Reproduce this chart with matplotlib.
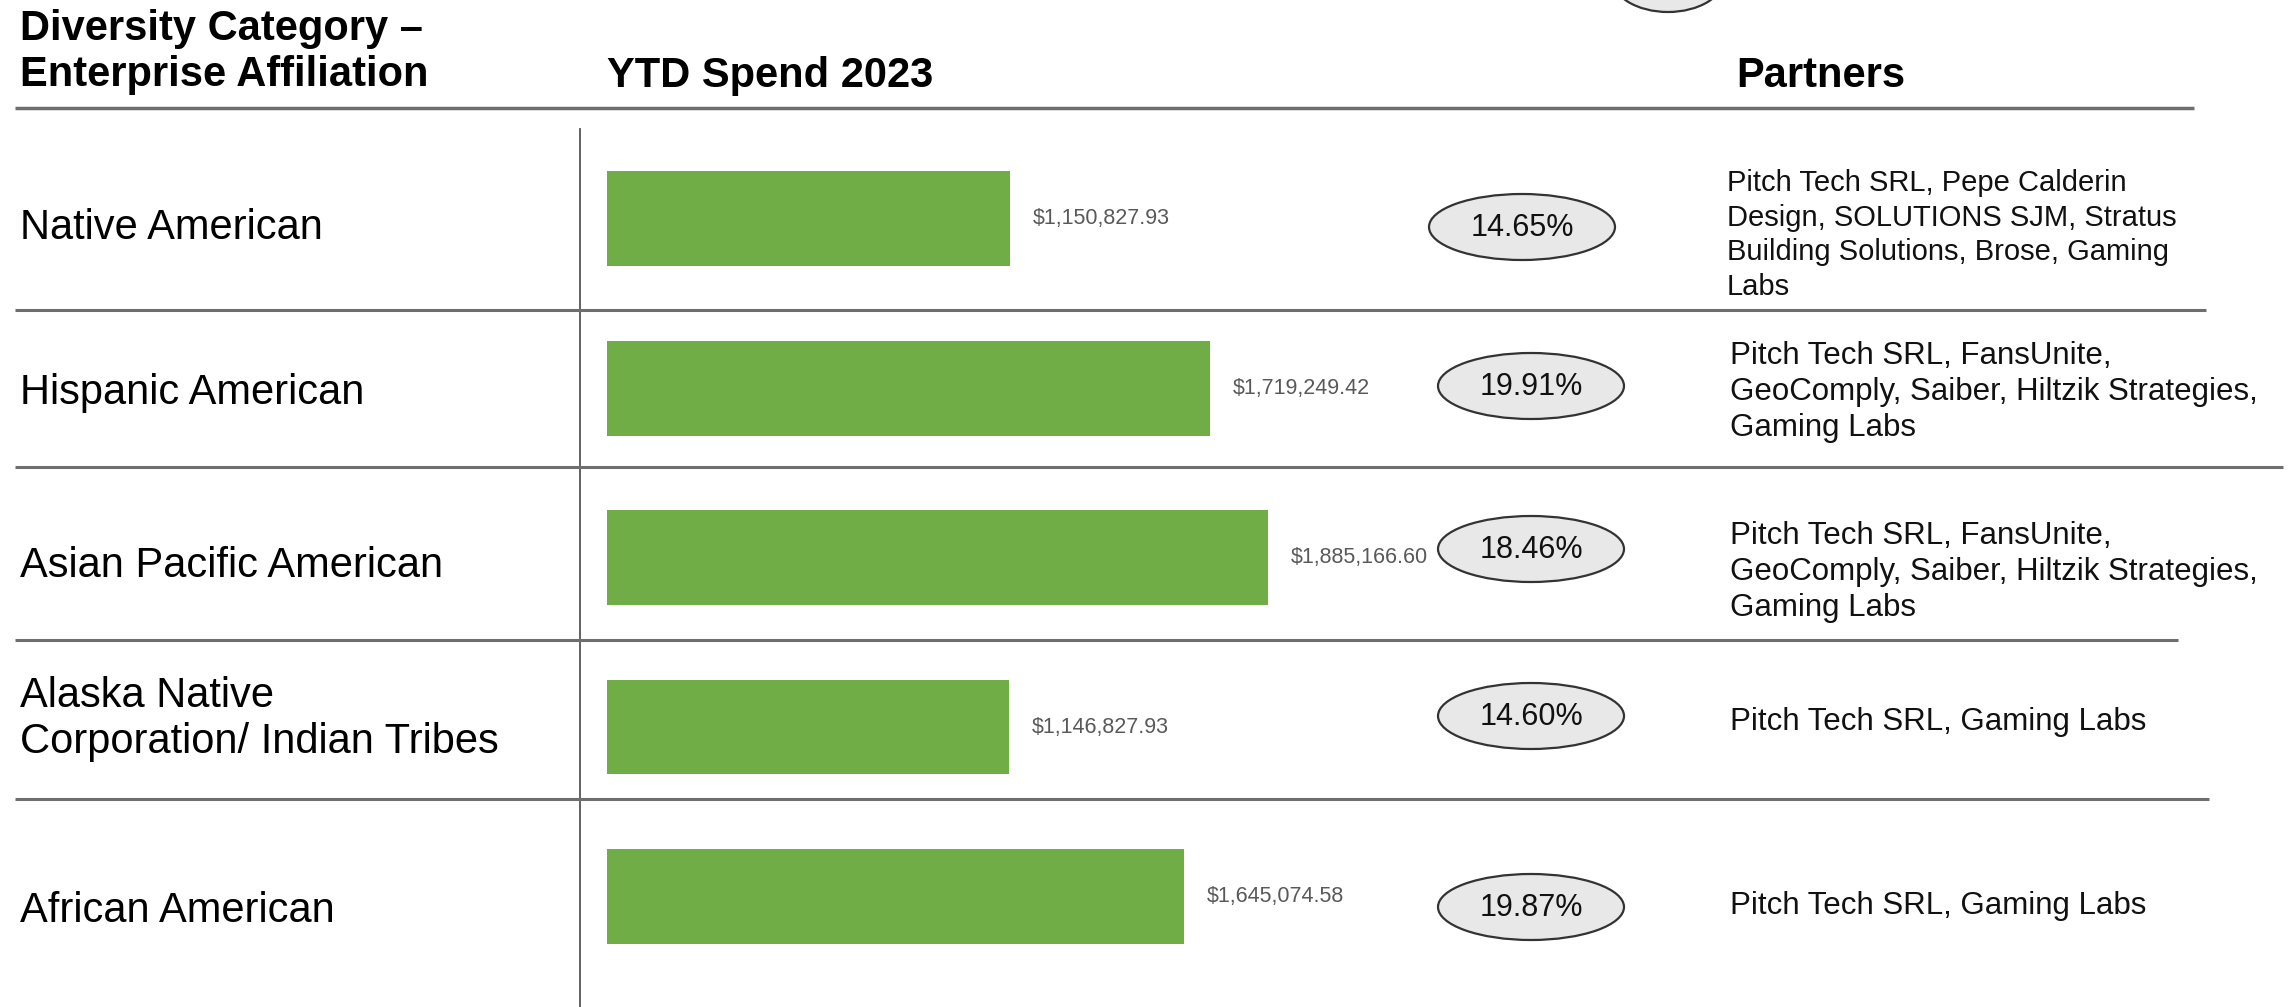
import matplotlib
matplotlib.use("Agg")
import matplotlib.pyplot as plt
from matplotlib.patches import Ellipse

plt.rcParams["font.family"] = ["Liberation Sans", "DejaVu Sans"]

# ── data ────────────────────────────────────────────────────────────────────────
categories = [
    "Native American",
    "Hispanic American",
    "Asian Pacific American",
    "Alaska Native\nCorporation/ Indian Tribes",
    "African American",
]
spend = [1150827.93, 1719249.42, 1885166.60, 1146827.93, 1645074.58]
share_pct = [14.65, 19.91, 18.46, 14.60, 19.87]
partners = [
    "Pitch Tech SRL, Pepe Calderin\nDesign, SOLUTIONS SJM, Stratus\nBuilding Solutions, Brose, Gaming\nLabs",
    "Pitch Tech SRL, FansUnite,\nGeoComply, Saiber, Hiltzik Strategies,\nGaming Labs",
    "Pitch Tech SRL, FansUnite,\nGeoComply, Saiber, Hiltzik Strategies,\nGaming Labs",
    "Pitch Tech SRL, Gaming Labs",
    "Pitch Tech SRL, Gaming Labs",
]

# ── layout (pixels) ─────────────────────────────────────────────────────────────
W, H = 2295, 1007
GREEN = "#70AD47"
LINE = "#6E6E6E"

label_y = [228, 393, 566, 719, 911]
pill_x = [1522, 1531, 1531, 1531, 1531]
pill_y = [227, 386, 549, 716, 907]
partner_x = [1727, 1730, 1730, 1730, 1730]
partner_y = [235, 392, 572, 722, 906]
partner_fs = [21, 22.5, 22.5, 22.5, 22.5]
partner_ls = [1.3, 1.27, 1.27, 1.27, 1.27]
sep_y = [310, 467, 640, 799]
sep_x_end = [2206, 2283, 2178, 2209]

fig = plt.figure(figsize=(W / 100, H / 100), dpi=100)

# overlay in pixel coords for text, rules and pills
over = fig.add_axes([0, 0, 1, 1])
over.set_xlim(0, W)
over.set_ylim(H, 0)
over.axis("off")

# headers
over.text(20, 52, "Diversity Category –\nEnterprise Affiliation", fontsize=30,
          fontweight="bold", va="center", ha="left", linespacing=1.18)
over.text(607, 76, "YTD Spend 2023", fontsize=30, fontweight="bold", va="center", ha="left")
over.text(1736, 76, "Partners", fontsize=30, fontweight="bold", va="center", ha="left")
over.plot([15, 2194], [108, 108], color=LINE, lw=2.5, solid_capstyle="butt")

# partially visible legend pill at the top edge
over.add_patch(Ellipse((1668, -22), 112, 68, facecolor="#E8E8E8", edgecolor="#333333", lw=1.6))

# column divider and row separators
over.plot([580, 580], [129, H], color="#555555", lw=1.3)
for y, xe in zip(sep_y, sep_x_end):
    over.plot([15, xe], [y, y], color=LINE, lw=2.2, solid_capstyle="butt")

for i, cat in enumerate(categories):
    over.text(20, label_y[i], cat, fontsize=30, va="center", ha="left", linespacing=1.18)
    over.add_patch(Ellipse((pill_x[i], pill_y[i]), 186, 66, facecolor="#E8E8E8",
                           edgecolor="#333333", lw=1.6))
    over.text(pill_x[i], pill_y[i] + 1, f"{share_pct[i]:.2f}%", fontsize=22,
              va="center", ha="center", color="#111111")
    over.text(partner_x[i], partner_y[i], partners[i], fontsize=partner_fs[i],
              va="center", ha="left", linespacing=partner_ls[i], color="#111111")

# bars
ax = fig.add_axes([607 / W, (H - 981.1) / H, 701 / W, 847 / H])
ax.set_xlim(0, 2_000_000)
ax.set_ylim(4.5, -0.5)
ax.axis("off")
ax.patch.set_alpha(0)
ypos = list(range(len(categories)))
ax.barh(ypos, spend, height=0.56, color=GREEN)
for yi, v in zip(ypos, spend):
    ax.annotate(f"${v:,.2f}", xy=(v, yi), xytext=(16.5, 0), textcoords="offset points",
                va="center", ha="left", fontsize=15.5, color="#595959")

fig.savefig("out.png", dpi=100)
